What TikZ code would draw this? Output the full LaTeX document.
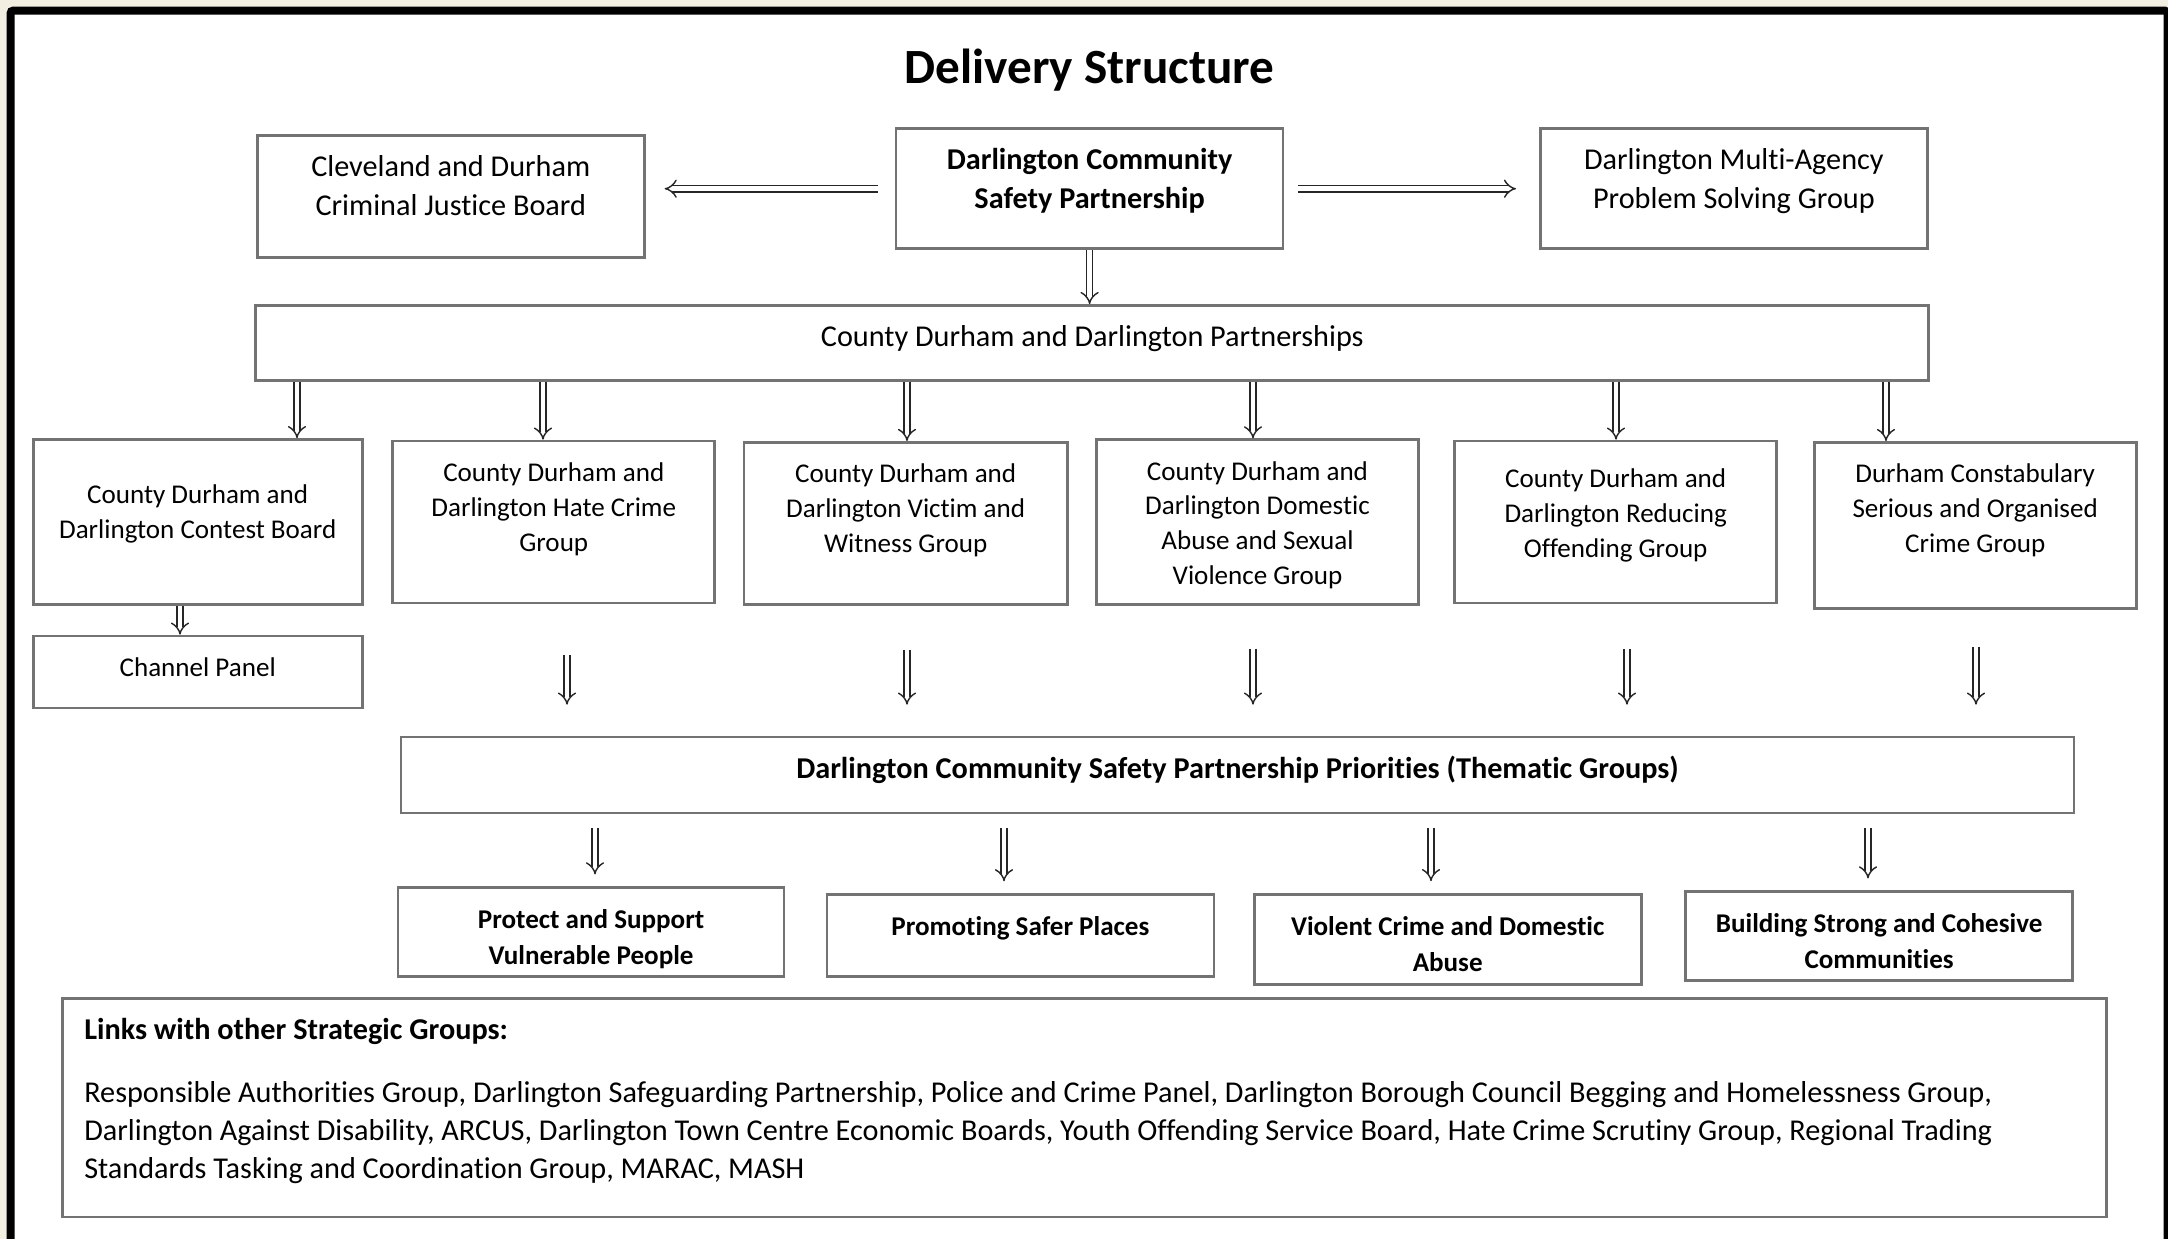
\documentclass[tikz,border=0pt]{standalone}
\usepackage{fontspec}
\setmainfont{Carlito}[Ligatures=NoCommon]
\usepackage{tikz}
\usetikzlibrary{arrows.meta}
\newlength{\px}
\setlength{\px}{0.01cm}
\definecolor{boxgray}{RGB}{115,115,115}
\definecolor{pagebeige}{RGB}{242,238,226}
\newcommand{\btext}[4][14]{\parbox[c][#3\px][t]{#2\px}{\centering\vspace*{#1\px}\strut #4}}
\tikzset{
  box/.style={draw=boxgray, line width=0.75pt, inner sep=0pt, fill=white},
  big/.style={font=\fontsize{8.6}{11}\selectfont},
  bigbf/.style={font=\fontsize{8.6}{11}\selectfont\bfseries},
  small/.style={font=\fontsize{7.7}{9.9}\selectfont},
  smallbf/.style={font=\fontsize{7.7}{10.2}\selectfont\bfseries},
  arr/.style={draw=black!85, line width=0.4pt, double=white, double distance=1.4pt, -{Implies}}
}
\begin{document}
\begin{tikzpicture}[x=0.01cm, y=-0.01cm]
\useasboundingbox (0,0) rectangle (2168,1239);
\clip (0,0) rectangle (2168,1239);
\fill[pagebeige] (0,0) rectangle (2168,1239);
\draw[line width=8\px, rounded corners=3\px, fill=white] (10.5,10.5) rectangle (2167.5,1300);

\node (title) at (1089.6,70.5) {\fontsize{14}{16}\selectfont\bfseries Delivery Structure};

\node[box, big] (cjb) at (450.8,196.3) {\btext{387}{122}{Cleveland and Durham\\Criminal Justice Board}};
\node[box, bigbf] (dcsp) at (1089.6,188.7) {\btext{387}{120}{Darlington Community\\Safety Partnership}};
\node[box, big] (mapsg) at (1733.9,188.7) {\btext{387}{120}{Darlington Multi-Agency\\Problem Solving Group}};
\node[box, big] (cddp) at (1092.3,342.9) {\btext{1673}{75}{County Durham and Darlington Partnerships}};

\node[box, small] (contest) at (197.7,522) {\btext[40]{329}{165}{County Durham and\\Darlington Contest Board}};
\node[box, small] (channel) at (197.7,672) {\btext[16]{329}{72}{Channel Panel}};
\node[box, small] (hate) at (553.8,522) {\btext[16]{322}{162}{County Durham and\\Darlington Hate Crime\\Group}};
\node[box, small] (victim) at (905.7,523.3) {\btext[16]{323.5}{162}{County Durham and\\Darlington Victim and\\Witness Group}};
\node[box, small] (domestic) at (1257.5,522) {\btext[16]{322}{164.5}{County Durham and\\Darlington Domestic\\Abuse and Sexual\\Violence Group}};
\node[box, small] (reducing) at (1615.7,522) {\btext[22]{322}{162}{County Durham and\\Darlington Reducing\\Offending Group}};
\node[box, small] (constab) at (1975.2,525.4) {\btext[16]{322}{166}{Durham Constabulary\\Serious and Organised\\Crime Group}};

\node[box, bigbf] (priorities) at (1237.5,775) {\btext{1673}{76}{Darlington Community Safety Partnership Priorities (Thematic Groups)}};

\node[box, smallbf] (protect) at (591.1,932) {\btext[16]{386}{88.5}{Protect and Support\\Vulnerable People}};
\node[box, smallbf] (safer) at (1020.4,935.4) {\btext[16]{387}{81.6}{Promoting Safer Places}};
\node[box, smallbf] (violent) at (1447.7,939.5) {\btext[16]{387}{90}{Violent Crime and Domestic\\Abuse}};
\node[box, smallbf] (building) at (1879.1,936) {\btext[16]{387}{88.5}{Building Strong and Cohesive\\Communities}};

\node[box, big] (links) at (1084.3,1107.6) {\parbox[c][218.5\px][t]{2044\px}{\leftskip=22\px\fontsize{8.6}{10.8}\selectfont
  \vspace*{15\px}\strut\textbf{Links with other Strategic Groups:}\par\vspace{25\px}
  Responsible Authorities Group, Darlington Safeguarding Partnership, Police and Crime Panel, Darlington Borough Council Begging and Homelessness Group,\\
  Darlington Against Disability, ARCUS, Darlington Town Centre Economic Boards, Youth Offending Service Board, Hate Crime Scrutiny Group, Regional Trading\\
  Standards Tasking and Coordination Group, MARAC, MASH}};

\draw[arr, shorten <=17\px, shorten >=19\px] (dcsp.west) -- (cjb.east |- dcsp.west);
\draw[arr, shorten <=14\px, shorten >=23\px] (dcsp.east) -- (mapsg.west);
\draw[arr] (dcsp.south) -- (cddp.north -| dcsp.south);
\foreach \x/\n in {297/contest, 543/hate, 907/victim, 1253/domestic, 1616/reducing, 1886/constab}
  \draw[arr] (cddp.south -| \x,0) -- (\n.north -| \x,0);
\draw[arr] (contest.south -| 180,0) -- (channel.north -| 180,0);
\foreach \x/\n/\s in {567/hate/51, 907/victim/44, 1253/domestic/43, 1627/reducing/45, 1976/constab/37}
  \draw[arr, shorten <=\s\px, shorten >=31\px] (\n.south -| \x,0) -- (priorities.north -| \x,0);
\foreach \x/\n in {595/protect, 1004/safer, 1431/violent, 1868/building}
  \draw[arr, shorten <=14\px, shorten >=12\px] (priorities.south -| \x,0) -- (\n.north -| \x,0);
\end{tikzpicture}
\end{document}
